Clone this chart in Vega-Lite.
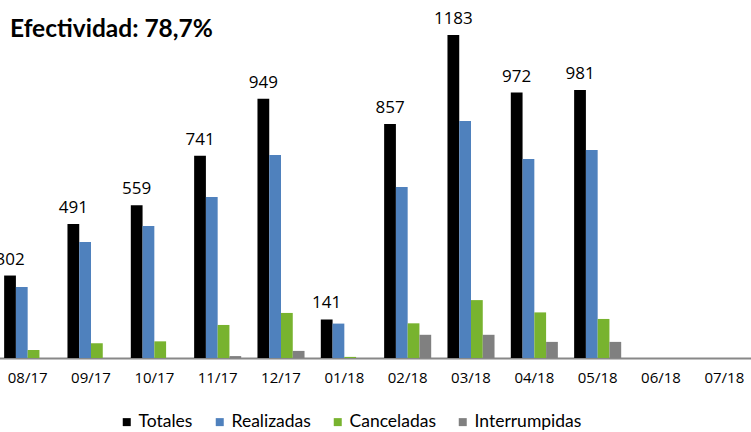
{
  "$schema": "https://vega.github.io/schema/vega-lite/v6.json",
  "width": 760,
  "height": 358,
  "autosize": {"type": "none"},
  "padding": {"left": -4, "top": 0, "right": 0, "bottom": 74},
  "background": "#ffffff",
  "title": {
    "text": "Efectividad: 78,7%",
    "anchor": "start",
    "frame": "group",
    "font": "Lato",
    "fontSize": 24.5,
    "fontWeight": "bold",
    "color": "#000000",
    "baseline": "alphabetic",
    "dx": 14,
    "dy": 61,
    "offset": 0
  },
  "data": {
    "values": [
      {"mes": "08/17", "serie": "Totales", "valor": 302},
      {"mes": "08/17", "serie": "Realizadas", "valor": 260},
      {"mes": "08/17", "serie": "Canceladas", "valor": 29},
      {"mes": "08/17", "serie": "Interrumpidas", "valor": 0},
      {"mes": "09/17", "serie": "Totales", "valor": 491},
      {"mes": "09/17", "serie": "Realizadas", "valor": 425},
      {"mes": "09/17", "serie": "Canceladas", "valor": 54},
      {"mes": "09/17", "serie": "Interrumpidas", "valor": 0},
      {"mes": "10/17", "serie": "Totales", "valor": 559},
      {"mes": "10/17", "serie": "Realizadas", "valor": 483},
      {"mes": "10/17", "serie": "Canceladas", "valor": 61},
      {"mes": "10/17", "serie": "Interrumpidas", "valor": 0},
      {"mes": "11/17", "serie": "Totales", "valor": 741},
      {"mes": "11/17", "serie": "Realizadas", "valor": 590},
      {"mes": "11/17", "serie": "Canceladas", "valor": 121},
      {"mes": "11/17", "serie": "Interrumpidas", "valor": 7},
      {"mes": "12/17", "serie": "Totales", "valor": 949},
      {"mes": "12/17", "serie": "Realizadas", "valor": 743},
      {"mes": "12/17", "serie": "Canceladas", "valor": 165},
      {"mes": "12/17", "serie": "Interrumpidas", "valor": 26},
      {"mes": "01/18", "serie": "Totales", "valor": 141},
      {"mes": "01/18", "serie": "Realizadas", "valor": 126},
      {"mes": "01/18", "serie": "Canceladas", "valor": 4},
      {"mes": "01/18", "serie": "Interrumpidas", "valor": 0},
      {"mes": "02/18", "serie": "Totales", "valor": 857},
      {"mes": "02/18", "serie": "Realizadas", "valor": 626},
      {"mes": "02/18", "serie": "Canceladas", "valor": 127},
      {"mes": "02/18", "serie": "Interrumpidas", "valor": 85},
      {"mes": "03/18", "serie": "Totales", "valor": 1183},
      {"mes": "03/18", "serie": "Realizadas", "valor": 868},
      {"mes": "03/18", "serie": "Canceladas", "valor": 212},
      {"mes": "03/18", "serie": "Interrumpidas", "valor": 85},
      {"mes": "04/18", "serie": "Totales", "valor": 972},
      {"mes": "04/18", "serie": "Realizadas", "valor": 729},
      {"mes": "04/18", "serie": "Canceladas", "valor": 167},
      {"mes": "04/18", "serie": "Interrumpidas", "valor": 59},
      {"mes": "05/18", "serie": "Totales", "valor": 981},
      {"mes": "05/18", "serie": "Realizadas", "valor": 762},
      {"mes": "05/18", "serie": "Canceladas", "valor": 143},
      {"mes": "05/18", "serie": "Interrumpidas", "valor": 59}
    ]
  },
  "encoding": {
    "x": {
      "field": "mes",
      "type": "nominal",
      "sort": null,
      "scale": {
        "domain": ["08/17", "09/17", "10/17", "11/17", "12/17", "01/18", "02/18", "03/18", "04/18", "05/18", "06/18", "07/18"],
        "paddingInner": 0.257,
        "paddingOuter": 0.1285
      },
      "axis": {
        "title": null,
        "labelAngle": 0,
        "labelFont": "Open Sans",
        "labelFontSize": 15,
        "labelColor": "#000000",
        "labelPadding": 12,
        "ticks": false,
        "domainColor": "#888888",
        "domainWidth": 2
      }
    },
    "xOffset": {
      "field": "serie",
      "type": "nominal",
      "scale": {"domain": ["Totales", "Realizadas", "Canceladas", "Interrumpidas"], "paddingInner": 0, "paddingOuter": 0}
    },
    "y": {
      "field": "valor",
      "type": "quantitative",
      "scale": {"domain": [0, 1311], "nice": false, "zero": true},
      "axis": null
    }
  },
  "layer": [
    {
      "mark": {"type": "bar"},
      "encoding": {
        "color": {
          "field": "serie",
          "type": "nominal",
          "scale": {
            "domain": ["Totales", "Realizadas", "Canceladas", "Interrumpidas"],
            "range": ["#000000", "#4F81BD", "#78B32F", "#808080"]
          },
          "legend": {
            "title": null,
            "orient": "none",
            "legendX": 122,
            "legendY": 413,
            "padding": 0,
            "direction": "horizontal",
            "symbolType": "square",
            "symbolSize": 64,
            "symbolStrokeWidth": 0,
            "labelFont": "Lato",
            "labelFontSize": 17.5,
            "labelColor": "#000000",
            "labelOffset": 3,
            "columnPadding": 18
          }
        }
      }
    },
    {
      "transform": [{"filter": "datum.serie === 'Totales'"}],
      "mark": {"type": "text", "baseline": "alphabetic", "dy": -11, "font": "Open Sans", "fontSize": 17, "color": "#000000"},
      "encoding": {
        "text": {"field": "valor", "type": "quantitative"}
      }
    }
  ],
  "config": {
    "view": {"stroke": null}
  }
}
